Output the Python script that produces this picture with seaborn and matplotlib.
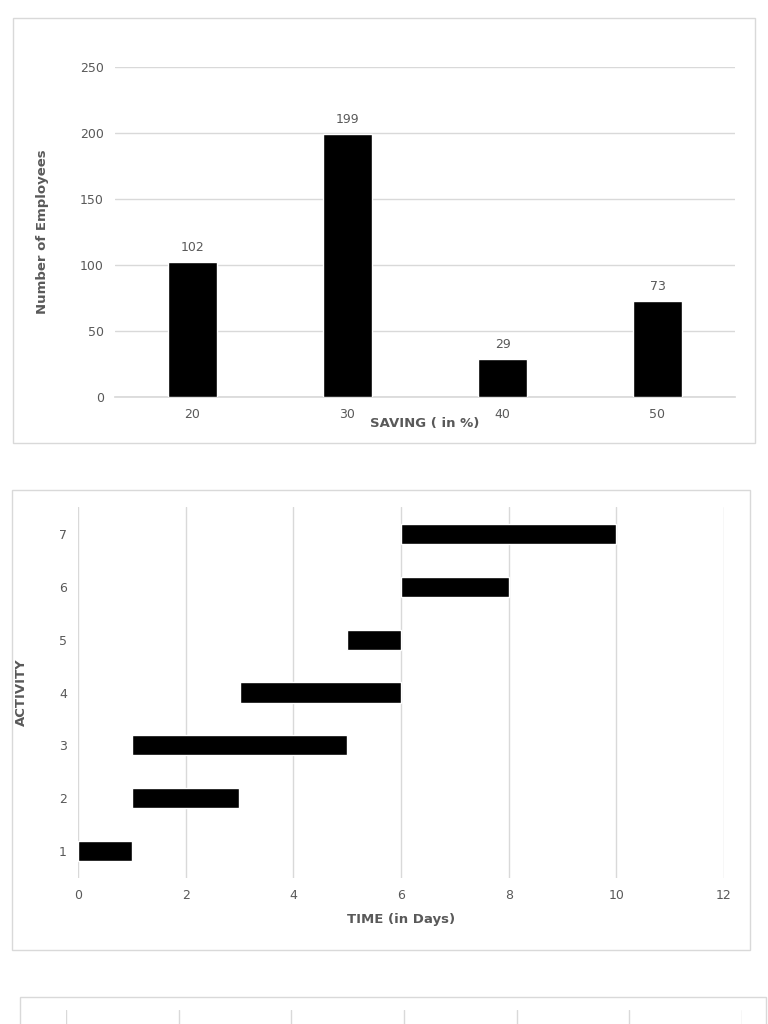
import numpy as np
import pandas as pd
import seaborn as sns
import matplotlib.pyplot as plt
from matplotlib.patches import Rectangle

# chart 1 data
saving = ["20", "30", "40", "50"]
employees = [102, 199, 29, 73]

# chart 2 data (gantt)
activity = [1, 2, 3, 4, 5, 6, 7]
start_day = [0, 1, 1, 3, 5, 6, 6]
end_day = [1, 3, 5, 6, 6, 8, 10]

# chart 3 (cut off) gridline positions
partial_ticks = [0, 1, 2, 3, 4, 5, 6]

sns.set_theme(style="white", font="DejaVu Sans")
fig = plt.figure(figsize=(7.68, 10.24), dpi=100)
W, H = 768, 1024
grey = "#595959"
gridc = "#d9d9d9"

def box(x0, y0, x1, y1):
    fig.patches.append(Rectangle((x0 / W, 1 - y1 / H), (x1 - x0) / W, (y1 - y0) / H,
                                 transform=fig.transFigure, fill=False,
                                 edgecolor="#d9d9d9", lw=1))

def ax_px(x0, y0, x1, y1):
    return fig.add_axes([x0 / W, 1 - y1 / H, (x1 - x0) / W, (y1 - y0) / H])

# --- chart 1
box(13, 18, 755, 443)
ax1 = ax_px(115, 67, 735, 397)
df1 = pd.DataFrame({"saving": saving, "employees": employees})
sns.barplot(data=df1, x="saving", y="employees", color="black", width=0.31,
            saturation=1, ax=ax1, zorder=3)
for i, v in enumerate(employees):
    ax1.text(i, v + 6, str(v), ha="center", va="bottom", fontsize=9, color=grey)
ax1.set_ylim(0, 250)
ax1.set_xlim(-0.5, 3.5)
ax1.set_yticks(range(0, 251, 50))
ax1.yaxis.grid(True, color=gridc, lw=1, zorder=0)
ax1.set_axisbelow(True)
for s in ["top", "right", "left"]:
    ax1.spines[s].set_visible(False)
ax1.spines["bottom"].set_color(gridc)
ax1.tick_params(axis="both", colors=grey, labelsize=9, length=0, pad=8)
ax1.set_ylabel("Number of Employees", fontsize=9.5, fontweight="bold", color=grey, labelpad=22)
ax1.set_xlabel("SAVING ( in %)", fontsize=9.5, fontweight="bold", color=grey, labelpad=-3)

# --- chart 2
box(12, 490, 750, 950)
ax2 = ax_px(78, 507, 724, 878)
df2 = pd.DataFrame({"activity": activity, "start": start_day, "end": end_day})
ax2.barh(df2["activity"], df2["end"] - df2["start"], left=df2["start"],
         height=0.38, color="black", zorder=3)
ax2.set_xlim(0, 12)
ax2.set_ylim(0.49, 7.51)
ax2.set_xticks(range(0, 13, 2))
ax2.set_yticks(activity)
ax2.xaxis.grid(True, color=gridc, lw=1, zorder=0)
sns.despine(ax=ax2, left=True, bottom=True)
ax2.tick_params(axis="both", colors=grey, labelsize=9, length=0, pad=8)
ax2.set_xlabel("TIME (in Days)", fontsize=9.5, fontweight="bold", color=grey, labelpad=8)
ax2.set_ylabel("ACTIVITY", fontsize=9.5, fontweight="bold", color=grey, labelpad=22)

# --- chart 3 (partially visible)
box(20, 997, 766, 1030)
ax3 = ax_px(66, 1010, 742, 1024)
ax3.set_xlim(0, 6)
ax3.set_ylim(0, 1)
ax3.set_xticks(partial_ticks)
ax3.xaxis.grid(True, color=gridc, lw=1)
ax3.set_yticks([])
ax3.tick_params(axis="x", labelbottom=False, length=0)
sns.despine(ax=ax3, left=True, bottom=True)

fig.savefig("out.png", dpi=100)
